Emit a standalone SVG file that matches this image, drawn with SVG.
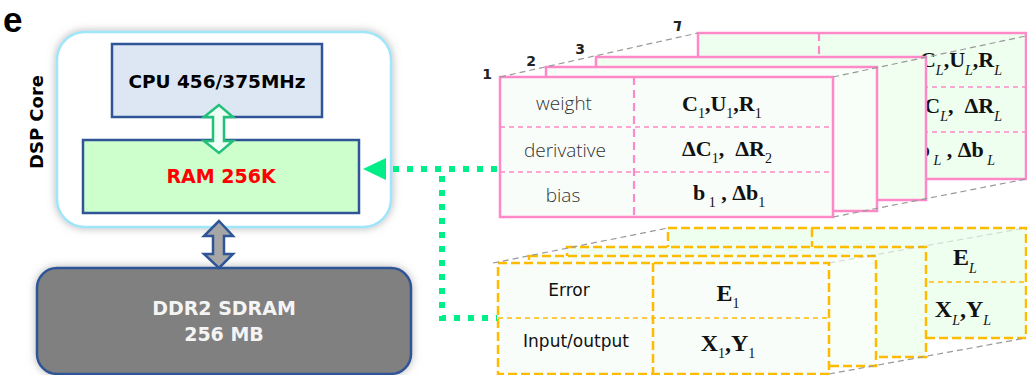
<svg xmlns="http://www.w3.org/2000/svg" width="1027" height="375" viewBox="0 0 1027 375">
<defs>
<filter id="sh" x="-10%" y="-10%" width="120%" height="120%">
<feDropShadow dx="0" dy="0" stdDeviation="4" flood-color="#777" flood-opacity="0.55"/>
</filter>
</defs>
<style>
.blk{stroke:#2f5597;stroke-width:2.5}
.hw{font-family:"DejaVu Sans",sans-serif;font-weight:bold}
.pk{fill:#f9fdf9;stroke:#ff88c8;stroke-width:2.5}
.pkc{stroke:#ff88c8;stroke-width:2.2;stroke-dasharray:8 5;fill:none}
.pkr{stroke:#ff88c8;stroke-width:1.3;stroke-dasharray:5 4;fill:none}
.yl{fill:#f9fdf9;stroke:#ffbb00;stroke-width:2.5;stroke-dasharray:9 4}
.ylc{stroke:#ffbb00;stroke-width:2.5;stroke-dasharray:9 4;fill:none}
.ylr{stroke:#ffbb00;stroke-width:1.3;stroke-dasharray:5 4;fill:none}
.pv{stroke:#999;stroke-width:1.2;stroke-dasharray:6 4;fill:none}
.lt{font-family:"Open Sans",sans-serif;font-weight:300;font-size:19px;fill:#333;text-anchor:middle}
.ye{font-family:"DejaVu Sans",sans-serif;font-size:17px;fill:#111;text-anchor:middle}
.m{font-family:"Liberation Serif",serif;font-weight:bold;font-size:22px;fill:#111}
.m2{font-family:"Liberation Serif",serif;font-weight:bold;font-size:24px;fill:#111}
.s{font-weight:normal;font-size:14px}
.si{font-weight:normal;font-style:italic;font-size:14px}
.num{font-family:"DejaVu Sans",sans-serif;font-weight:bold;font-size:14px;fill:#222;text-anchor:middle}
.gd{stroke:#00ee88;stroke-width:6;stroke-dasharray:6 8;fill:none}
</style>

<text x="3" y="32" font-family="Liberation Sans, sans-serif" font-weight="bold" font-size="35" fill="#000">e</text>

<g id="dsp-core">
<rect x="57" y="32" width="334" height="195" rx="28" fill="#fff" stroke="#9fe6fb" stroke-width="2.5" filter="url(#sh)"/>
<text class="hw" font-size="18" fill="#000" text-anchor="middle" transform="translate(43 122) rotate(-90)">DSP Core</text>
</g>

<g id="cpu">
<rect x="112" y="44" width="210" height="73" fill="#dde7f3" class="blk"/>
<text class="hw" x="217" y="88" font-size="18.5" fill="#000" text-anchor="middle">CPU 456/375MHz</text>
</g>

<g id="ram">
<rect x="83" y="140" width="276" height="73" fill="#ccffcc" class="blk"/>
<text class="hw" x="221" y="183" font-size="19" fill="#ff0000" text-anchor="middle">RAM 256K</text>
</g>

<g id="ddr2">
<rect x="37" y="268" width="374" height="106" rx="20" fill="#808080" class="blk" filter="url(#sh)"/>
<text class="hw" x="224" y="315" font-size="19" fill="#f4f4f4" text-anchor="middle">DDR2 SDRAM</text>
<text class="hw" x="224" y="341" font-size="19" fill="#f4f4f4" text-anchor="middle">256 MB</text>
</g>

<g id="pink-table">
<g id="pink-layer-L">
<rect x="698" y="33" width="328" height="146" fill="#eefff0" stroke="#ff88c8" stroke-width="2.5"/>
<line class="pkc" x1="819" y1="33" x2="819" y2="179"/>
<line class="pkr" x1="698" y1="87" x2="1026" y2="87"/>
<line class="pkr" x1="698" y1="132" x2="1026" y2="132"/>
<text class="m" x="1002" y="67" text-anchor="end">C<tspan class="si" dy="8">L</tspan><tspan dy="-8">,U</tspan><tspan class="si" dy="8">L</tspan><tspan dy="-8">,R</tspan><tspan class="si" dy="8">L</tspan></text>
<text class="m" x="1002" y="113" text-anchor="end">ΔC<tspan class="si" dy="8">L</tspan><tspan dy="-8" xml:space="preserve">,  ΔR</tspan><tspan class="si" dy="8">L</tspan></text>
<text class="m" x="995" y="157" text-anchor="end">b<tspan class="si" dy="8"> L</tspan><tspan dy="-8" xml:space="preserve"> , Δb</tspan><tspan class="si" dy="8"> L</tspan></text>
</g>
<rect id="pink-layer-3" x="596" y="57" width="330" height="143" fill="#f1fff1" stroke="#ff88c8" stroke-width="2.5"/>
<rect id="pink-layer-2" x="546" y="67" width="331" height="144" fill="#f8fef8" stroke="#ff88c8" stroke-width="2.5"/>
<g id="pink-layer-1">
<rect class="pk" x="500" y="77" width="333" height="140"/>
<line class="pkc" x1="634" y1="77" x2="634" y2="217"/>
<line class="pkr" x1="500" y1="127" x2="833" y2="127"/>
<line class="pkr" x1="500" y1="172" x2="833" y2="172"/>
<text class="lt" x="564" y="110">weight</text>
<text class="lt" x="565" y="157">derivative</text>
<text class="lt" x="563" y="202">bias</text>
<text class="m" x="682" y="111">C<tspan class="s" dy="7">1</tspan><tspan dy="-7">,U</tspan><tspan class="s" dy="7">1</tspan><tspan dy="-7">,R</tspan><tspan class="s" dy="7">1</tspan></text>
<text class="m" x="682" y="156">ΔC<tspan class="s" dy="7">1</tspan><tspan dy="-7" xml:space="preserve">,  ΔR</tspan><tspan class="s" dy="7">2</tspan></text>
<text class="m" x="693" y="200">b<tspan class="s" dy="7"> 1</tspan><tspan dy="-7" xml:space="preserve"> , Δb</tspan><tspan class="s" dy="7">1</tspan></text>
</g>
<line class="pv" x1="500" y1="77" x2="698" y2="33"/>
<line class="pv" x1="833" y1="77" x2="1026" y2="36"/>
<line class="pv" x1="833" y1="217" x2="1026" y2="179"/>
<text class="num" x="487" y="79">1</text>
<text class="num" x="531" y="66">2</text>
<text class="num" x="580" y="54">3</text>
<text class="num" font-style="italic" x="677" y="31" transform="rotate(180 677 26)">L</text>
</g>

<g id="yellow-table">
<g id="yellow-layer-L">
<rect x="668" y="228" width="358" height="110" fill="#eefff0" stroke="#ffbb00" stroke-width="2.5" stroke-dasharray="9 4"/>
<line class="ylc" x1="812" y1="228" x2="812" y2="338"/>
<line class="ylr" x1="668" y1="282" x2="1026" y2="282"/>
<text class="m2" x="965" y="265" text-anchor="middle">E<tspan class="si" dy="8">L</tspan></text>
<text class="m2" x="963" y="317" text-anchor="middle">X<tspan class="si" dy="8">L</tspan><tspan dy="-8">,Y</tspan><tspan class="si" dy="8">L</tspan></text>
</g>
<rect id="yellow-layer-3" x="567" y="247" width="359" height="110" fill="#f1fff1" stroke="#ffbb00" stroke-width="2.5" stroke-dasharray="9 4"/>
<rect id="yellow-layer-2" x="529" y="256" width="347" height="110" fill="#f8fef8" stroke="#ffbb00" stroke-width="2.5" stroke-dasharray="9 4"/>
<g id="yellow-layer-1">
<rect class="yl" x="498" y="263" width="331" height="111"/>
<line class="ylc" x1="653" y1="263" x2="653" y2="374"/>
<line class="ylr" x1="498" y1="318" x2="829" y2="318"/>
<text class="ye" x="569" y="296">Error</text>
<text class="ye" x="576" y="347">Input/output</text>
<text class="m2" x="728" y="301" text-anchor="middle">E<tspan class="s" dy="7">1</tspan></text>
<text class="m2" x="728" y="351" text-anchor="middle">X<tspan class="s" dy="7">1</tspan><tspan dy="-7">,Y</tspan><tspan class="s" dy="7">1</tspan></text>
</g>
<line class="pv" x1="493" y1="263" x2="668" y2="228"/>
<line class="pv" x1="829" y1="374" x2="1026" y2="338"/>
<line class="pv" x1="829" y1="263" x2="1026" y2="228" opacity="0.35"/>
</g>

<g id="connectors">
<polygon points="219,105 204,117 213,117 213,141 204,141 219,153 233,141 224,141 224,117 233,117" fill="#effff5" stroke="#22c07a" stroke-width="2.5" stroke-linejoin="miter"/>
<polygon points="219,221 204,236 213,236 213,254 204,254 219,268 233,254 224,254 224,236 233,236" fill="#a6a6a6" stroke="#2f5597" stroke-width="2.5"/>
<path class="gd" d="M497 169 H388"/>
<path class="gd" d="M442 176 V318 H497"/>
<polygon points="363,169 386,158 386,180" fill="#00ee88"/>
</g>
</svg>
